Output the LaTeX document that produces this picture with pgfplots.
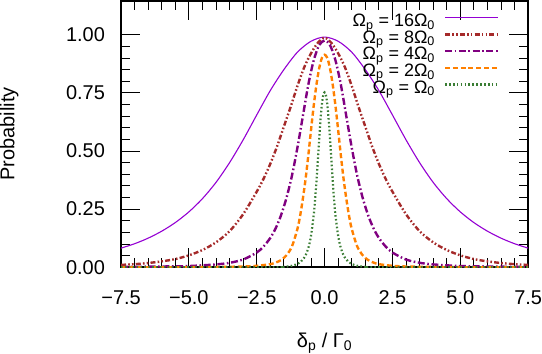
\documentclass[border=0pt]{standalone}
\usepackage{fontspec}
\setmainfont{Liberation Sans}
\usepackage{pgfplots}
\usepackage{pgfplotstable}
\pgfplotsset{compat=1.18}
\definecolor{c16}{HTML}{9400D3}
\definecolor{c8}{HTML}{A52A2A}
\definecolor{c4}{HTML}{800080}
\definecolor{c2}{HTML}{FF8000}
\definecolor{c1}{HTML}{3A7D34}
\tikzset{
  s16/.style={color=c16, line width=1.1pt},
  s8/.style={color=c8, line width=2.4pt, dash pattern=on 5pt off 2.2pt on 1.6pt off 2.2pt on 1.6pt off 2.2pt},
  s4/.style={color=c4, line width=2.4pt, dash pattern=on 7pt off 2.6pt on 1.6pt off 2.6pt},
  s2/.style={color=c2, line width=2.4pt, dash pattern=on 5pt off 2.8pt},
  s1/.style={color=c1, line width=2.2pt, dash pattern=on 1.6pt off 2.3pt},
}

\pgfplotstableread{
x y
-7.5 0.082
-7.0 0.101
-6.5 0.125
-6.0 0.155
-5.5 0.192
-5.0 0.238
-4.5 0.295
-4.0 0.365
-3.5 0.450
-3.0 0.548
-2.5 0.655
-2.0 0.760
-1.5 0.850
-1.0 0.925
-0.5 0.972
0.0 0.990
0.5 0.972
1.0 0.925
1.5 0.850
2.0 0.760
2.5 0.655
3.0 0.548
3.5 0.450
4.0 0.365
4.5 0.295
5.0 0.238
5.5 0.192
6.0 0.155
6.5 0.125
7.0 0.101
7.5 0.082
}\tA

\pgfplotstableread{
x y
-7.5 0.010
-7.0 0.013
-6.5 0.018
-6.0 0.025
-5.5 0.035
-5.0 0.051
-4.5 0.074
-4.0 0.107
-3.5 0.155
-3.0 0.228
-2.5 0.325
-2.25 0.380
-2.0 0.445
-1.75 0.520
-1.5 0.605
-1.25 0.690
-1.0 0.780
-0.75 0.860
-0.5 0.920
-0.25 0.965
0.0 0.987
0.25 0.965
0.5 0.920
0.75 0.860
1.0 0.780
1.25 0.690
1.5 0.605
1.75 0.520
2.0 0.445
2.25 0.380
2.5 0.325
3.0 0.228
3.5 0.155
4.0 0.107
4.5 0.074
5.0 0.051
5.5 0.035
6.0 0.025
6.5 0.018
7.0 0.013
7.5 0.010
}\tB

\pgfplotstableread{
x y
-7.5 0.001
-6.0 0.003
-5.0 0.005
-4.0 0.012
-3.5 0.019
-3.0 0.033
-2.5 0.063
-2.25 0.089
-2.0 0.126
-1.8 0.168
-1.6 0.225
-1.4 0.300
-1.2 0.395
-1.0 0.515
-0.8 0.650
-0.6 0.785
-0.4 0.890
-0.2 0.955
0.0 0.975
0.2 0.955
0.4 0.890
0.6 0.785
0.8 0.650
1.0 0.515
1.2 0.395
1.4 0.300
1.6 0.225
1.8 0.168
2.0 0.126
2.25 0.089
2.5 0.063
3.0 0.033
3.5 0.019
4.0 0.012
5.0 0.005
6.0 0.003
7.5 0.001
}\tC

\pgfplotstableread{
x y
-7.5 0.000
-5.0 0.000
-4.0 0.001
-3.0 0.003
-2.5 0.006
-2.0 0.013
-1.8 0.020
-1.6 0.031
-1.4 0.052
-1.2 0.090
-1.0 0.165
-0.9 0.222
-0.8 0.295
-0.7 0.380
-0.6 0.480
-0.5 0.590
-0.4 0.695
-0.3 0.785
-0.2 0.855
-0.1 0.900
0.0 0.914
0.1 0.900
0.2 0.855
0.3 0.785
0.4 0.695
0.5 0.590
0.6 0.480
0.7 0.380
0.8 0.295
0.9 0.222
1.0 0.165
1.2 0.090
1.4 0.052
1.6 0.031
1.8 0.020
2.0 0.013
2.5 0.006
3.0 0.003
4.0 0.001
5.0 0.000
7.5 0.000
}\tD

\pgfplotstableread{
x y
-7.5 0.000
-2.0 0.000
-1.5 0.002
-1.2 0.006
-1.0 0.014
-0.9 0.021
-0.8 0.033
-0.7 0.051
-0.6 0.082
-0.5 0.135
-0.4 0.225
-0.35 0.290
-0.3 0.370
-0.25 0.460
-0.2 0.550
-0.15 0.635
-0.1 0.700
-0.05 0.740
0.0 0.752
0.05 0.740
0.1 0.700
0.15 0.635
0.2 0.550
0.25 0.460
0.3 0.370
0.35 0.290
0.4 0.225
0.5 0.135
0.6 0.082
0.7 0.051
0.8 0.033
0.9 0.021
1.0 0.014
1.2 0.006
1.5 0.002
2.0 0.000
7.5 0.000
}\tE

\begin{document}
\fontsize{20}{24}\selectfont
\begin{tikzpicture}
\begin{axis}[
  scale only axis, width=408pt, height=267pt,
  xmin=-7.5, xmax=7.5, ymin=0, ymax=1.146,
  axis line style={line width=1.6pt, black},
  xtick={-7.5,-5,-2.5,0,2.5,5,7.5},
  xticklabels={−7.5,−5.0,−2.5,0.0,2.5,5.0,7.5},
  ytick={0,0.25,0.5,0.75,1},
  yticklabels={0.00,0.25,0.50,0.75,1.00},
  minor x tick num=4, minor y tick num=4,
  tick align=inside,
  major tick length=19pt, minor tick length=9pt,
  tick style={line width=0.8pt, black},
  xticklabel style={anchor=north, inner sep=0pt, yshift=-23pt, font=\fontsize{20}{24}\selectfont},
  yticklabel style={anchor=east, inner sep=0pt, xshift=-16pt, font=\fontsize{20}{24}\selectfont},
  every axis y label/.style={at={(axis description cs:-0.2745,0.5)}, rotate=90, anchor=center, inner sep=0pt, font=\fontsize{20}{24}\selectfont},
  every axis x label/.style={at={(axis description cs:0.5,-0.247)}, anchor=north, inner sep=0pt, font=\fontsize{20}{24}\selectfont},
  ylabel={Probability},
  xlabel={δ\textsubscript{p} / Γ\textsubscript{0}},
  legend cell align=right,
  legend plot pos=right,
  legend style={fill=none, inner sep=0pt, outer sep=0pt, draw opacity=0,
    at={(rel axis cs:0.929,0.945)}, anchor=north east,
    row sep=0pt, column sep=9pt,
    font=\fontsize{18}{21}\selectfont,
    nodes={inner sep=0pt, text height=11pt, text depth=5.7pt}},
]
\addplot[s16, smooth, legend image code/.code={\draw[s16, draw opacity=1] (0pt,6pt) -- (53pt,6pt);}] table[x=x,y=y] {\tA};
\addlegendentry{Ω\textsubscript{p} = 16Ω\textsubscript{0}}
\addplot[s8, smooth, legend image code/.code={\draw[s8, draw opacity=1] (0pt,6pt) -- (53pt,6pt);}] table[x=x,y=y] {\tB};
\addlegendentry{Ω\textsubscript{p} = 8Ω\textsubscript{0}}
\addplot[s4, smooth, legend image code/.code={\draw[s4, draw opacity=1] (0pt,6pt) -- (53pt,6pt);}] table[x=x,y=y] {\tC};
\addlegendentry{Ω\textsubscript{p} = 4Ω\textsubscript{0}}
\addplot[s2, smooth, legend image code/.code={\draw[s2, draw opacity=1] (0pt,6pt) -- (53pt,6pt);}] table[x=x,y=y] {\tD};
\addlegendentry{Ω\textsubscript{p} = 2Ω\textsubscript{0}}
\addplot[s1, smooth, legend image code/.code={\draw[s1, draw opacity=1] (0pt,6pt) -- (53pt,6pt);}] table[x=x,y=y] {\tE};
\addlegendentry{Ω\textsubscript{p} = Ω\textsubscript{0}}
\end{axis}
\end{tikzpicture}
\end{document}
